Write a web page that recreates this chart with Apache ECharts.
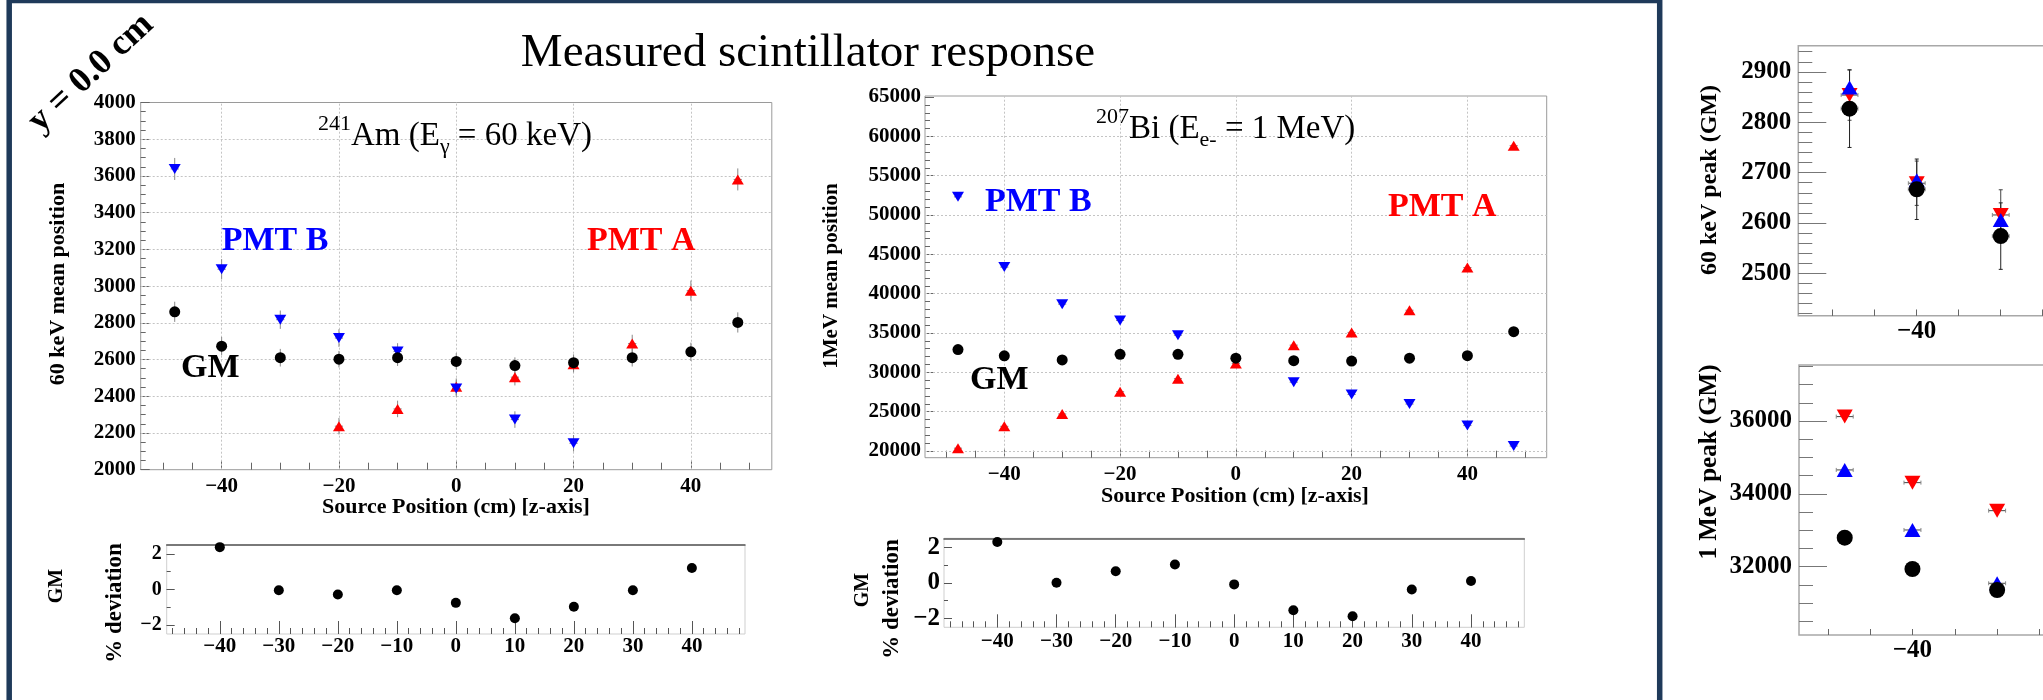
<!DOCTYPE html>
<html><head><meta charset="utf-8">
<script src="https://cdn.jsdelivr.net/npm/echarts@6/dist/echarts.min.js"></script>
<style>html,body{margin:0;padding:0;background:#fff;overflow:hidden;width:2043px;height:700px}#c{width:2800px;height:700px}</style>
</head><body><div id="c"></div>
<script>
// ---------------- data ----------------
const zPos   = [-48,-40,-30,-20,-10,0,10,20,30,40,48];
// 241Am, 60 keV mean position
const amGM   = [2860,2673,2610,2602,2610,2590,2567,2583,2610,2642,2802];
const amPmtA = [null,null,null,2237,2331,2452,2504,2575,2687,2975,3581];
const amPmtB = [3638,3092,2817,2717,2644,2442,2273,2144,null,null,null];
const amErrGM = [55,50,48,45,45,45,45,45,48,50,55];
const amErrA  = [50,50,50,45,45,45,45,45,48,55,60];
const amErrB  = [60,55,50,48,45,45,45,45,50,50,50];
// 207Bi, 1 MeV mean position
const biGM   = [32900,32100,31580,32290,32290,31800,31490,31440,31800,32120,35170];
const biPmtA = [20360,23140,24710,27540,29200,31130,33460,35080,37900,43330,58810];
const biPmtB = [52310,43380,38670,36600,34720,null,28750,27180,25970,23230,20630];
const biErr  = [300,300,300,300,300,300,300,300,300,300,300];
// % deviation (GM)
const devPos = [-40,-30,-20,-10,0,10,20,30,40];
const amDev  = [2.38,-0.04,-0.28,-0.04,-0.75,-1.62,-0.97,-0.04,1.21];
const biDev  = [2.29,0.00,0.65,1.03,-0.09,-1.54,-1.88,-0.38,0.10];
// right panel (cut off)
const peakPos   = [-48,-40,-30];
const peak60GM  = [2827,2667,2574];
const peak60B   = [2869,2685,2606];
const peak60A   = [2854,2679,2616];
const peak60ErrGM = [77,60,66];
const peak60ErrAB = [50,44,50];
const peak1GM   = [32797,31937,31360];
const peak1B    = [34657,33008,31544];
const peak1A    = [36121,34308,33538];
const peak1Err  = [60,60,60];
// tick labels
const mainXLabels = [-40,-20,0,20,40];
const amYLabels   = [2000,2200,2400,2600,2800,3000,3200,3400,3600,3800,4000];
const biYLabels   = [20000,25000,30000,35000,40000,45000,50000,55000,60000,65000];
const devXLabels  = [-40,-30,-20,-10,0,10,20,30,40];
const devYLabels  = [-2,0,2];
const p60YLabels  = [2500,2600,2700,2800,2900];
const p1YLabels   = [32000,34000,36000];

// ---------------- helpers ----------------
const SERIF = '"Liberation Serif","Times New Roman",serif';
function range(a,b,s){const r=[];for(let v=a;v<=b+1e-9;v+=s)r.push(Math.round(v*1000)/1000);return r;}
const fmtNum = v => (v<0?'\u2212':'')+Math.abs(v);
const grids=[], xAxes=[], yAxes=[], series=[];

function axisPair(gi, dim, min, max, labels, major, minor, st){
  const list = dim==='x'?xAxes:yAxes;
  const pos = dim==='x'?'bottom':'left';
  list.push({type:'value',gridIndex:gi,min,max,position:pos,
    axisLine:{show:false,onZero:false},
    axisTick:{show:true,inside:true,length:st.majLen,customValues:major,lineStyle:{color:st.tick,width:1}},
    axisLabel:{show:true,customValues:labels,margin:st.margin,formatter:fmtNum,fontFamily:SERIF,fontWeight:'bold',fontSize:st.fs,color:'#000'},
    splitLine:{show:false}});
  const idx = list.length-1;
  list.push({type:'value',gridIndex:gi,min,max,position:pos,
    axisLine:{show:false,onZero:false},
    axisTick:{show:true,inside:true,length:st.minLen,customValues:minor,lineStyle:{color:st.tick,width:1}},
    axisLabel:{show:false},splitLine:{show:false}});
  return idx;
}
function pts(xs,ys){return xs.map((x,i)=>[x,ys[i]]).filter(d=>d[1]!=null);}
function scat(xi,yi,xs,ys,symbol,size,color,rot,extra){
  return Object.assign({type:'scatter',xAxisIndex:xi,yAxisIndex:yi,z:3,symbol,symbolSize:size,symbolRotate:rot||0,
    itemStyle:{color,opacity:1},data:pts(xs,ys),silent:true,animation:false},extra||{});
}
function errs(xi,yi,xs,ys,es,xe,color,cap){
  return {type:'custom',xAxisIndex:xi,yAxisIndex:yi,z:2,silent:true,animation:false,
    data:xs.map((x,i)=>[x,ys[i],es[i]]).filter(d=>d[1]!=null),
    encode:{x:0,y:1},
    renderItem:(p,api)=>{
      const x=api.value(0),y=api.value(1),e=api.value(2);
      const t=api.coord([x,y+e]),b=api.coord([x,y-e]),l=api.coord([x-xe,y]),r=api.coord([x+xe,y]);
      const ch=[
        {type:'line',shape:{x1:t[0],y1:t[1],x2:b[0],y2:b[1]},style:{stroke:color,lineWidth:1}},
        {type:'line',shape:{x1:l[0],y1:l[1],x2:r[0],y2:r[1]},style:{stroke:color,lineWidth:1}}];
      if(cap){
        ch.push({type:'line',shape:{x1:t[0]-cap,y1:t[1],x2:t[0]+cap,y2:t[1]},style:{stroke:color,lineWidth:1}});
        ch.push({type:'line',shape:{x1:b[0]-cap,y1:b[1],x2:b[0]+cap,y2:b[1]},style:{stroke:color,lineWidth:1}});
        ch.push({type:'line',shape:{x1:l[0],y1:l[1]-cap,x2:l[0],y2:l[1]+cap},style:{stroke:'#888',lineWidth:1}});
        ch.push({type:'line',shape:{x1:r[0],y1:r[1]-cap,x2:r[0],y2:r[1]+cap},style:{stroke:'#888',lineWidth:1}});
      }
      return {type:'group',children:ch};
    }};
}
function gridMarks(xs,ys){
  return {silent:true,symbol:'none',animation:false,z:1,label:{show:false},
    lineStyle:{color:'#c4c4c4',type:[2,2],width:1},
    data:[...xs.map(v=>({xAxis:v})),...ys.map(v=>({yAxis:v}))]};
}

// ---------------- grids ----------------
const frameMain = {show:true,borderColor:'#9a9a9a',borderWidth:1,backgroundColor:'transparent'};
grids.push(Object.assign({left:140.7,top:102.5,width:631.1,height:367.2},frameMain)); //0 Am
grids.push(Object.assign({left:925,top:96,width:621.7,height:361.7},frameMain));      //1 Bi
grids.push({left:166.7,top:545,width:578.3,height:89,show:true,borderColor:'#cfcfcf',borderWidth:1}); //2
grids.push({left:944,top:538.3,width:580.3,height:89,show:true,borderColor:'#cfcfcf',borderWidth:1}); //3
grids.push({left:1798.3,top:45.7,width:908.9,height:270,show:true,borderColor:'#a8a8a8',borderWidth:1.5}); //4
grids.push({left:1799,top:365,width:904.3,height:270,show:true,borderColor:'#a8a8a8',borderWidth:1.5});   //5

const stM = {fs:21,margin:4,majLen:9,minLen:5,tick:'#666'};
// Am
const x0 = axisPair(0,'x',-53.8,53.8,mainXLabels,mainXLabels,range(-50,50,5),Object.assign({},stM,{margin:6,minLen:7}));
const y0 = axisPair(0,'y',2000,4000,amYLabels,amYLabels,range(2000,4000,50),Object.assign({},stM,{margin:5}));
// Bi
const x1 = axisPair(1,'x',-53.7,53.7,mainXLabels,mainXLabels,range(-50,50,5),Object.assign({},stM,{margin:6,minLen:7}));
const y1 = axisPair(1,'y',19150,65130,biYLabels,biYLabels,range(20000,65000,1000),Object.assign({},stM,{margin:4}));
// deviations
const x2 = axisPair(2,'x',-49,49,devXLabels,devXLabels,range(-48,48,2),{fs:21,margin:2,majLen:13,minLen:6,tick:'#555'});
const y2 = axisPair(2,'y',-2.5,2.5,devYLabels,devYLabels,range(-2,2,1),{fs:20,margin:5,majLen:8,minLen:4,tick:'#555'});
const x3 = axisPair(3,'x',-49,49,devXLabels,devXLabels,range(-48,48,2),{fs:21,margin:4,majLen:13,minLen:6,tick:'#555'});
const y3 = axisPair(3,'y',-2.5,2.5,devYLabels,devYLabels,range(-2,2,1),{fs:25,margin:4,majLen:8,minLen:4,tick:'#555'});
// top dark lines of deviation pads
xAxes.push({type:'value',gridIndex:2,min:-49,max:49,position:'top',axisLine:{show:true,onZero:false,lineStyle:{color:'#555',width:1.5}},axisTick:{show:false},axisLabel:{show:false},splitLine:{show:false}});
xAxes.push({type:'value',gridIndex:3,min:-49,max:49,position:'top',axisLine:{show:true,onZero:false,lineStyle:{color:'#555',width:1.5}},axisTick:{show:false},axisLabel:{show:false},splitLine:{show:false}});
// right panel
const x4 = axisPair(4,'x',-54.1,54.1,mainXLabels,range(-50,50,5),range(-50,50,5),{fs:25,margin:3,majLen:6,minLen:6,tick:'#666'});
const y4 = axisPair(4,'y',2416,2952,p60YLabels,p60YLabels,range(2420,2940,20),{fs:25,margin:7,majLen:28,minLen:14,tick:'#777'});
const x5 = axisPair(5,'x',-53.4,53.4,mainXLabels,range(-50,50,5),range(-50,50,5),{fs:25,margin:3,majLen:6,minLen:6,tick:'#666'});
const y5 = axisPair(5,'y',30124,37538,p1YLabels,p1YLabels,range(30500,37500,500),{fs:25,margin:7,majLen:28,minLen:14,tick:'#777'});

// ---------------- series ----------------
const TRI=[12,10], CIR=11;
// Am
series.push(errs(x0,y0,zPos,amPmtA,amErrA,0.7,'#888'));
series.push(errs(x0,y0,zPos,amPmtB,amErrB,0.7,'#888'));
series.push(errs(x0,y0,zPos,amGM,amErrGM,0.7,'#888'));
series.push(scat(x0,y0,zPos,amPmtA,'triangle',TRI,'#ff0000',0,{markLine:gridMarks(mainXLabels,amYLabels.slice(1,-1))}));
series.push(scat(x0,y0,zPos,amPmtB,'triangle',TRI,'#0000ff',180));
series.push(scat(x0,y0,zPos,amGM,'circle',CIR,'#000'));
// Bi
series.push(errs(x1,y1,zPos,biPmtA,biErr,0.7,'#888'));
series.push(errs(x1,y1,zPos,biPmtB,biErr,0.7,'#888'));
series.push(errs(x1,y1,zPos,biGM,biErr,0.7,'#888'));
series.push(scat(x1,y1,zPos,biPmtA,'triangle',TRI,'#ff0000',0,{markLine:gridMarks(mainXLabels,biYLabels.slice(0,-1))}));
series.push(scat(x1,y1,zPos,biPmtB,'triangle',TRI,'#0000ff',180));
series.push(scat(x1,y1,zPos,biGM,'circle',CIR,'#000'));
// deviations
series.push(scat(x2,y2,devPos,amDev,'circle',10,'#000'));
series.push(scat(x3,y3,devPos,biDev,'circle',10,'#000'));
// right panel
series.push(errs(x4,y4,peakPos,peak60A,peak60ErrAB,1,'#444',2));
series.push(errs(x4,y4,peakPos,peak60GM,peak60ErrGM,1,'#222',2));
series.push(scat(x4,y4,peakPos,peak60A,'triangle',[16,14],'#ff0000',180));
series.push(scat(x4,y4,peakPos,peak60B,'triangle',[16,14],'#0000ff',0));
series.push(scat(x4,y4,peakPos,peak60GM,'circle',16,'#000'));
series.push(errs(x5,y5,peakPos,peak1A,peak1Err,1,'#444',2));
series.push(errs(x5,y5,peakPos,peak1B,peak1Err,1,'#444',2));
series.push(scat(x5,y5,peakPos,peak1A,'triangle',[16,14],'#ff0000',180));
series.push(scat(x5,y5,peakPos,peak1B,'triangle',[16,14],'#0000ff',0));
series.push(scat(x5,y5,peakPos,peak1GM,'circle',16,'#000'));

// ---------------- texts ----------------
function txt(x,y,text,size,o){o=o||{};
  return {type:'text',x,y,rotation:o.rot||0,silent:true,z:100,
    style:{text,fontFamily:SERIF,fontSize:size,fontWeight:o.bold?'bold':'normal',fill:o.color||'#000',
      align:o.align||'center',verticalAlign:'middle',rich:o.rich}};
}
const richLbl = {
  m:{fontSize:33,fontFamily:SERIF,lineHeight:45,fill:'#000'},
  sup:{fontSize:22,fontFamily:SERIF,verticalAlign:'top',fill:'#000'},
  sub:{fontSize:22,fontFamily:SERIF,verticalAlign:'bottom',fill:'#000'}
};
const V = Math.PI/2;
const graphic = [
  {type:'rect',silent:true,z:50,shape:{x:9.2,y:0.5,width:1650.5,height:760},style:{fill:'none',stroke:'#1f3a5a',lineWidth:5.5}},
  txt(808,54,'Measured scintillator response',47),
  txt(91,73,'y = 0.0 cm',36,{bold:true,rot:0.75}),
  // Am panel
  txt(318,136,'{sup|241}{m|Am (E}{sub|\u03b3}{m| = 60 keV)}',33,{align:'left',rich:richLbl}),
  txt(221.7,241,'PMT B',34,{bold:true,color:'#0000ff',align:'left'}),
  txt(587,241,'PMT A',34,{bold:true,color:'#ff0000',align:'left'}),
  txt(181,368,'GM',34,{bold:true,align:'left'}),
  txt(58,284,'60 keV mean position',22,{bold:true,rot:V}),
  txt(456,507,'Source Position (cm) [z-axis]',22,{bold:true}),
  // Bi panel
  txt(1096,129,'{sup|207}{m|Bi (E}{sub|e-}{m| = 1 MeV)}',33,{align:'left',rich:richLbl}),
  txt(985,202,'PMT B',34,{bold:true,color:'#0000ff',align:'left'}),
  txt(1388,207,'PMT A',34,{bold:true,color:'#ff0000',align:'left'}),
  txt(970,380,'GM',34,{bold:true,align:'left'}),
  txt(832,276,'1MeV mean position',21,{bold:true,rot:V}),
  txt(1235,496,'Source Position (cm) [z-axis]',22,{bold:true}),
  // deviation pads
  txt(57,586,'GM',20,{bold:true,rot:V}),
  txt(115,603,'% deviation',23,{bold:true,rot:V}),
  txt(863,590,'GM',20,{bold:true,rot:V}),
  txt(892,599,'% deviation',23,{bold:true,rot:V}),
  // right panel
  txt(1710,180,'60 keV peak (GM)',24,{bold:true,rot:V}),
  txt(1710,462,'1 MeV peak (GM)',25,{bold:true,rot:V})
];

const chart = echarts.init(document.getElementById('c'),null,{renderer:'canvas'});
chart.setOption({animation:false,backgroundColor:'#fff',grid:grids,xAxis:xAxes,yAxis:yAxes,series,graphic});
</script></body></html>
